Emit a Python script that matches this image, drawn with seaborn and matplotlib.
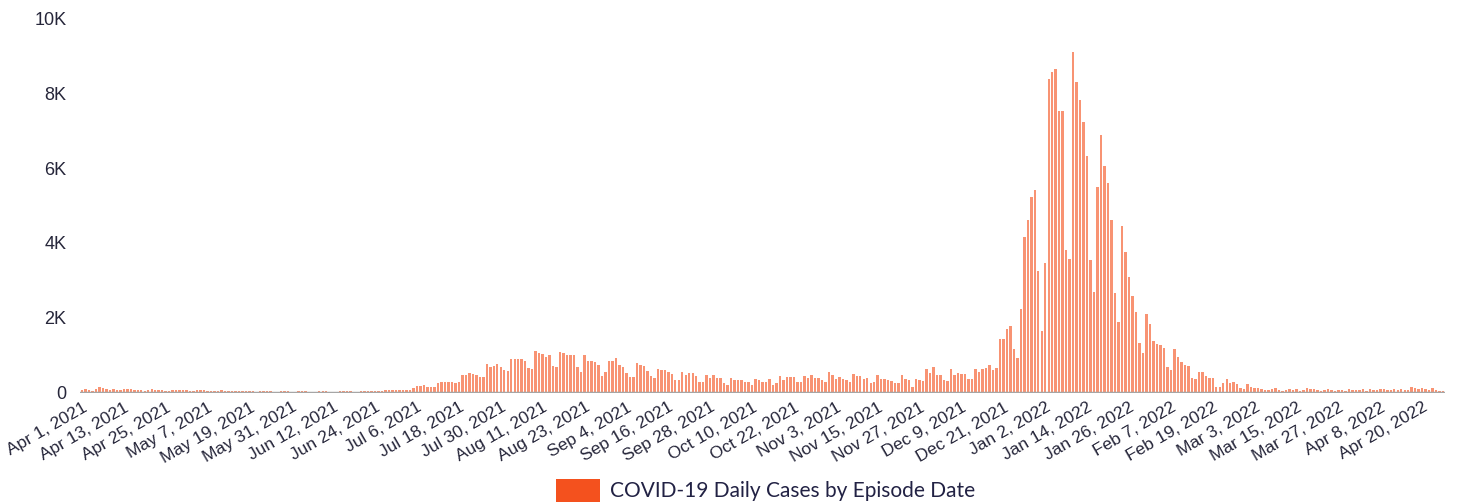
import numpy as np
import pandas as pd
import matplotlib
matplotlib.use('Agg')
import matplotlib.pyplot as plt
import seaborn as sns
from matplotlib.patches import Patch
from matplotlib.ticker import FuncFormatter

start_date = '2021-04-01'
series_name = 'COVID-19 Daily Cases by Episode Date'

# daily cases
apr_jun = [80, 95, 70, 60, 110, 160, 120, 90, 85, 100, 75, 65, 90, 100, 95, 80, 85, 70, 60, 85,
           90, 80, 75, 70, 60, 55, 80, 85, 75, 70,
           65, 55, 50, 70, 75, 65, 60, 55, 45, 60, 65, 55, 50, 45, 40, 55, 60, 50, 45, 40,
           35, 50, 55, 45, 40, 35, 30, 45, 50, 40, 35,
           30, 45, 50, 40, 35, 30, 28, 40, 45, 40, 35, 30, 28, 40, 45, 42, 38, 35, 30,
           45, 50, 48, 42, 40]
summer = [60, 55, 65, 80, 75, 80, 85, 70, 80, 85, 120, 170, 170, 200, 160, 160, 155, 260, 290, 290,
          290, 285, 260, 280, 470, 470, 520, 490, 470, 430, 430, 760, 680, 720, 760, 680, 600, 590,
          900, 900, 900, 900, 860, 660, 640, 1120, 1060, 1040, 950, 1000, 720]
aug_oct = [680, 1100, 1070, 1000, 1000, 1000, 680, 550, 1000, 860, 860, 830, 750, 460, 550, 840,
           860, 940, 740, 680, 520, 430, 430, 790, 750, 720, 570, 440, 390, 640, 600, 600, 550,
           510, 350, 350, 550, 480, 520, 520, 440, 280, 280, 480, 390, 480, 390, 390, 250, 200,
           390, 350]
oct_dec = [340, 340, 280, 280, 210, 380, 330, 290, 290, 360, 200, 260, 440, 330, 410, 410, 410, 280,
           280, 450, 390, 480, 400, 400, 330, 280, 550, 480, 370, 420, 370, 330, 280, 510, 440, 440,
           360, 400, 250, 290, 480, 370, 370, 350, 310, 250, 250, 480, 370, 350, 150, 370, 350, 310,
           640, 520, 680, 480, 480, 350, 310, 640, 480]
omicron_rise = [520, 510, 500, 370, 380, 630, 550, 640, 670, 750, 600, 670, 1430, 1430, 1700, 1790,
                1170, 940, 2250, 4150, 4600, 5220, 5410, 3240, 1660, 3470, 8380, 8550, 8630]
omicron_peak = [7530, 7530, 3810, 3560, 9100, 8300, 7810, 7240, 6320, 3550, 2700, 5500, 6880, 6050,
                5590, 4600, 2660, 1900, 4450, 3770, 3100, 2590, 2170, 1330, 1060, 2100, 1840, 1390, 1300]
omicron_fall = [1280, 1190, 690, 620, 1160, 950, 830, 750, 720, 390, 370, 560, 560, 450, 390, 390,
                150, 150, 250, 370, 250, 280, 240, 130, 100, 230, 150, 120, 120]
spring_2022 = [100, 80, 70, 90, 120, 80, 60, 70, 90, 80, 100, 60, 70, 130, 110, 90, 70, 60, 80, 90,
               70, 60, 80, 70, 60, 90, 80, 70, 80, 100, 60, 90, 70, 80, 100, 90, 70, 80, 110, 80,
               90, 70, 80, 150, 140, 100, 130, 90, 80, 120, 70, 60, 50]

cases = apr_jun + summer + aug_oct + oct_dec + omicron_rise + omicron_peak + omicron_fall + spring_2022
dates = pd.date_range(start_date, periods=len(cases), freq='D')
df = pd.DataFrame({'date': dates, 'cases': cases})
df['label'] = [f"{d:%b} {d.day}, {d.year}" for d in dates]

plt.rcParams['font.family'] = ['Liberation Sans', 'DejaVu Sans']

fig = plt.figure(figsize=(14.58, 5.03), dpi=100)
ax = fig.add_axes([0.055, 0.219, 0.936, 0.745])

sns.barplot(data=df, x='label', y='cases', color='#F4511E', alpha=0.62, width=0.7,
            saturation=1, ax=ax)

ax.set_ylim(0, 10000)
ax.set_yticks(np.arange(0, 10001, 2000))
ax.yaxis.set_major_formatter(FuncFormatter(lambda v, p: '0' if v == 0 else f'{int(v / 1000)}K'))

tick_pos = np.arange(0, len(df), 12)
ax.set_xticks(tick_pos)
ax.set_xticklabels(df['label'].iloc[tick_pos], rotation=30, ha='right', rotation_mode='anchor')

for s in ax.spines.values():
    s.set_visible(False)
ax.axhline(0, color='#a6a6a6', lw=2.5, zorder=5)
ax.tick_params(axis='both', length=0, colors='#26263a')
ax.tick_params(axis='y', pad=10, labelsize=13)
ax.tick_params(axis='x', pad=5, labelsize=12.5)
ax.set_xlabel('')
ax.set_ylabel('')
ax.grid(False)

fig.legend(handles=[Patch(facecolor='#F4511E', edgecolor='none', label=series_name)],
           loc='lower center', bbox_to_anchor=(0.525, -0.035), frameon=False,
           handlelength=2.1, handleheight=1.3, handletextpad=0.5,
           prop={'family': 'Lato', 'size': 15}, labelcolor='#222244')

fig.savefig('out.png', dpi=100)
